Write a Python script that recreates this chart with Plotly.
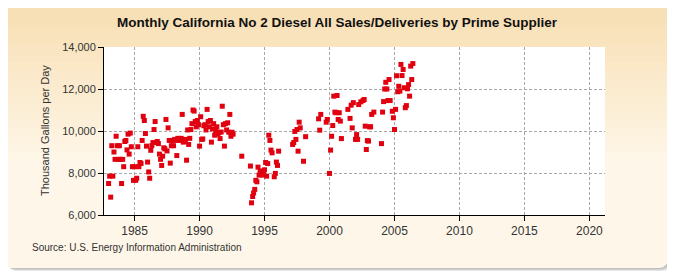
import pandas as pd
import plotly.graph_objects as go

# Monthly values, Jan 1983 .. Jun 2006, thousand gallons per day (None = withheld)
start_month = "1983-01"
sales = [
    # 1983
    7500, 7850, 6850, 9300, 7850, 9000, 8650, 9750, 9300, 8650, 9300, 8650,
    # 1984
    7500, 8650, 8300, 9500, 9550, 9100, 9850, 8900, 9900, 9250, 8300, 7650,
    # 1985
    8300, 7650, 7750, 9250, 8300, 8500, 8450, 9550, 10700, 10500, 9880, 9280,
    # 1986
    8520, 8050, 7750, 9080, 9300, 9450, 10070, 10450, 9450, 9500, 9400, 8900,
    # 1987
    8650, 8360, 8800, 9200, 9150, 10550, 9050, 10150, 9550, 8470, 9300, 9550,
    # 1988
    9300, 9600, 9550, 8830, 9650, 9600, 9550, 9650, 10790, 9470, 9500, 9600,
    # 1989
    8610, 10050, 9360, 9650, 10070, 10350, 11000, 10950, 10450, 10200, 10500, 10300,
    # 1990
    9280, 10680, 9600, 9620, 10250, 10300, 10050, 11030, 10450, 10200, 10500, 9470,
    # 1991
    10100, 10350, 9800, 10000, 10200, 9850, 9930, 9640, 9950, 11180, 10300, 9280,
    # 1992
    10350, 10050, 10390, 9940, 10790, 9750, 9940, 9850, None, None, None, None,
    # 1993
    None, None, None, 8800, None, None, None, None, None, None, None, 8330,
    # 1994
    6580, 6880, 7050, 7220, 7650, 7580, 8280, 7900, 8100, 8000, 7900, 8050,
    # 1995
    8150, 8500, 7850, 8450, 9800, 9550, 9090, 8960, None, 7820, 7980, 8520,
    # 1996
    8360, 9040, None, None, None, None, None, None, None, None, None, None,
    # 1997
    None, None, 9360, 9450, 9980, 9600, 10070, 9040, 10420, 10150, None, None,
    # 1998
    8560, None, 9730, None, None, None, None, None, None, None, None, None,
    # 1999
    None, None, 10580, 10040, 10790, None, None, None, None, 10420, 10550, None,
    # 2000
    7980, 9090, 9750, 10260, 11660, 10900, 10870, 11690, 10550, 10870, 10470, 9640,
    # 2001
    None, None, None, None, None, 11030, None, 10600, 11230, 10150, 11350, None,
    # 2002
    9600, 9830, 9600, 11260, None, 11390, None, 11450, 11500, 10230, 9120, 9540,
    # 2003
    9520, 10200, 10200, 10790, None, 10900, None, None, None, None, None, None,
    # 2004
    9400, 10900, 11400, 12000, 12320, 12000, 11450, 12450, 11450, None, 10940, 10630,
    # 2005
    10070, 11030, 12630, 11870, 12130, 11900, 13170, 12640, 12930, 12060, 11110, 11210,
    # 2006
    12010, 12210, 11660, 13090, 12450, 13210,
]
months = pd.date_range(start=start_month, periods=len(sales), freq="MS")

title = "Monthly California No 2 Diesel All Sales/Deliveries by Prime Supplier"
y_title = "Thousand Gallons per Day"
source = "Source: U.S. Energy Information Administration"

# the page body has an 8px margin, so layout pixels = screen pixels - 8
OFF = 8
W, H = 675, 275
L, T = 104 - OFF, 47 - OFF
R, B = W - (605 - OFF), H - (215 - OFF)
PW, PH = W - L - R, H - T - B


def px(x):
    return (x - OFF - L) / PW


def py(y):
    return (H - B - (y - OFF)) / PH


def rounded(x0, y0, x1, y1, r):
    # rounded rectangle path in paper coords, from screen-pixel box
    pts = [
        f"M {px(x0 + r)},{py(y0)}",
        f"L {px(x1 - r)},{py(y0)}",
        f"Q {px(x1)},{py(y0)} {px(x1)},{py(y0 + r)}",
        f"L {px(x1)},{py(y1 - r)}",
        f"Q {px(x1)},{py(y1)} {px(x1 - r)},{py(y1)}",
        f"L {px(x0 + r)},{py(y1)}",
        f"Q {px(x0)},{py(y1)} {px(x0)},{py(y1 - r)}",
        f"L {px(x0)},{py(y0 + r)}",
        f"Q {px(x0)},{py(y0)} {px(x0 + r)},{py(y0)} Z",
    ]
    return " ".join(pts)


shapes = []
# shadow
for off, col in [(5, "#E4E4E4"), (4, "#D2D2D2"), (3, "#C0C0C0")]:
    shapes.append(dict(type="path", xref="paper", yref="paper", layer="below",
                       path=rounded(3 + off, 3 + off, 668 + off - 2, 268 + off - 2, 10),
                       fillcolor=col, line=dict(width=0)))
# panel with vertical gradient
top_c = (248, 224, 182)
bot_c = (254, 247, 233)
shapes.append(dict(type="path", xref="paper", yref="paper", layer="below",
                   path=rounded(3, 3, 668, 268, 10),
                   fillcolor="rgb(%d,%d,%d)" % bot_c, line=dict(width=0)))
n = 30
y_top, y_bot = 13, 258
for i in range(n):
    t = i / (n - 1)
    t2 = min(1.0, t * 1.6)
    c = tuple(int(round(a + (b - a) * t2)) for a, b in zip(top_c, bot_c))
    y0 = y_top + (y_bot - y_top) * i / n
    y1 = y_top + (y_bot - y_top) * (i + 1) / n + 0.6
    shapes.append(dict(type="rect", xref="paper", yref="paper", layer="below",
                       x0=px(3), x1=px(668), y0=py(y0), y1=py(y1),
                       fillcolor="rgb(%d,%d,%d)" % c, line=dict(width=0)))
shapes.append(dict(type="path", xref="paper", yref="paper", layer="below",
                   path=rounded(3, 3, 668, 24, 10),
                   fillcolor="rgb(%d,%d,%d)" % top_c, line=dict(width=0)))
# plot area
shapes.append(dict(type="rect", xref="paper", yref="paper", layer="below",
                   x0=0, x1=1, y0=0, y1=1, fillcolor="white", line=dict(width=0)))

fig = go.Figure()
fig.add_trace(go.Scatter(
    x=months, y=sales, mode="markers",
    marker=dict(symbol="square", size=5, color="#E0000F", line=dict(width=0)),
    showlegend=False,
))

fig.update_layout(
    width=W, height=H,
    margin=dict(l=L, r=R, t=T, b=B),
    paper_bgcolor="white",
    plot_bgcolor="white",
    shapes=shapes,
    title=dict(text="<b>" + title + "</b>", x=(337 - OFF) / W, xref="container", xanchor="center",
               y=1 - (22 - OFF) / H, yref="container", yanchor="middle",
               font=dict(family="Liberation Sans, Arial", size=13.5, color="#111111")),
    font=dict(family="Liberation Sans, Arial", size=11, color="#333333"),
    annotations=[
        dict(text=y_title, textangle=-90, x=px(45), y=py(131), xref="paper", yref="paper",
             xanchor="center", yanchor="middle",
             showarrow=False, font=dict(size=11, color="#333333")),
        dict(text=source, x=px(30), y=py(247), xref="paper", yref="paper", xanchor="left",
             yanchor="middle", showarrow=False, font=dict(size=10, color="#333333")),
    ],
)

fig.update_xaxes(
    type="date", range=["1982-08-25", "2021-03-15"],
    tick0="1985-01-01", dtick="M60", tickformat="%Y",
    showgrid=True, gridcolor="#A8A8A8", griddash="3px,2px", gridwidth=1,
    showline=True, linecolor="#000000", linewidth=1,
    ticks="outside", ticklen=5, tickcolor="#000000",
    tickfont=dict(size=12, color="#333333"), zeroline=False,
)
fig.update_yaxes(
    range=[6000, 14000], dtick=2000, tickformat=",d",
    showgrid=True, gridcolor="#A8A8A8", griddash="3px,2px", gridwidth=1,
    showline=True, linecolor="#000000", linewidth=1,
    ticks="outside", ticklen=5, tickcolor="#000000",
    tickfont=dict(size=11, color="#333333"), zeroline=False,
)

fig.write_html("out.html")
